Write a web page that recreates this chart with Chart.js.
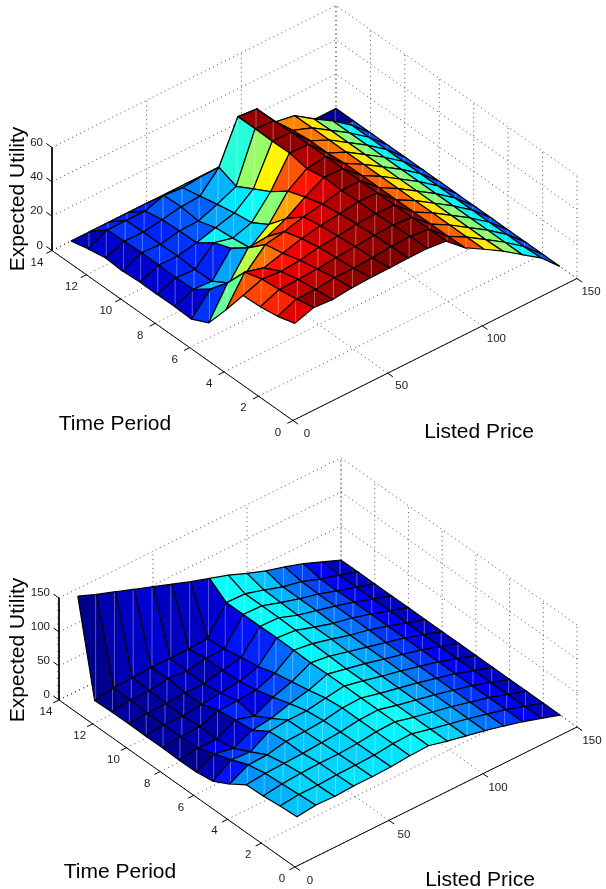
<!DOCTYPE html>
<html>
<head>
<meta charset="utf-8">
<script src="https://cdn.jsdelivr.net/npm/chart.js@4"></script>
<style>
html, body { margin: 0; padding: 0; background: #fff; }
canvas { display: block; }
</style>
</head>
<body>
<canvas id="chart_top" width="606" height="445"></canvas>
<canvas id="chart_bottom" width="606" height="444"></canvas>
<script>
'use strict';
var listedPrices = [10, 20, 30, 40, 50, 60, 70, 80, 90, 100, 110, 120, 130, 140, 150];
var timePeriods = [14, 13, 12, 11, 10, 9, 8, 7, 6, 5, 4, 3, 2, 1];
var priceTicks = [0, 50, 100, 150];
var timeTicks = [0, 2, 4, 6, 8, 10, 12, 14];
var utilityTicksTop = [0, 20, 40, 60];
var utilityTicksBottom = [0, 50, 100, 150];
var utilityMinorBottom = [10, 20, 30, 40, 60, 70, 80, 90, 110, 120, 130, 140];

// one row per time period (14 down to 1), one column per listed price
var utilityTop = [
    [0, 0, 0, 0, 0, 0, 0, 0, 0, 0, 0, 0, 0, 0, 0],
    [2.5, 8, 8, 8, 11.5, 10.5, 11.8, 5, 0, 0, 0, 0, 0, 1, 0],
    [4.4, 8.5, 8.3, 10, 12, 12.7, 24, 48, 47, 34, 32, 24.7, 18, 10, 0],
    [3.7, 8.9, 8.2, 10.5, 10.8, 15, 20, 48, 47, 36, 32, 25, 18, 10, 0],
    [4.4, 8.7, 8.5, 10.7, 14, 17, 25.6, 47.8, 47.5, 37, 32, 25, 18, 10, 0],
    [4.3, 8.4, 7.8, 17.8, 15, 18.5, 31, 48, 47.5, 37, 32, 25, 18, 10, 0],
    [4.4, 8.7, 8, 21.6, 16.4, 24.5, 38.4, 46, 47.5, 38, 32, 25, 18, 10, 0],
    [4, 16, 14, 29, 30, 35, 42, 48, 47.5, 38, 32, 25, 18, 10, 0],
    [8.9, 26.7, 27.4, 38, 40, 43, 45, 47.5, 47.5, 38, 32, 25, 18, 10, 0],
    [23.5, 40, 37, 40, 43, 45, 46.5, 48, 47.5, 38, 32, 25, 18, 10, 0],
    [39, 43, 42, 43, 45, 46, 47.5, 48, 47.5, 38, 32, 25, 18, 10, 0],
    [39.5, 44, 44.4, 45, 46, 47, 48, 48.5, 47.5, 38, 32, 25, 18, 10, 0],
    [41, 45.6, 45.6, 47, 47, 47.5, 48.6, 49, 47.6, 38, 32, 25, 18, 10, 0],
    [44, 47.6, 46.8, 48, 48.5, 48.7, 49, 49, 47.8, 38.4, 32, 25.4, 17.9, 10.5, 0]
];
var utilityBottom = [
    [139, 128, 118, 108, 98, 88, 78, 69, 60, 49, 39, 31, 22, 11, 0],
    [3, 8, 9, 10.6, 10, 10, 12, 51, 50, 42, 33, 27, 17, 9, 0],
    [3.9, 7.6, 7.4, 12, 9, 14, 14, 51, 50, 41, 33, 26, 17, 9, 0],
    [4.4, 5.4, 6.4, 8.4, 7.4, 14, 19, 51, 50, 40, 33, 26, 18, 9, 0],
    [3.9, 6, 5.4, 8.8, 12, 15, 23, 51.5, 49, 40, 32, 26, 18, 9, 0],
    [4.2, 6.4, 7.4, 17, 18, 20, 31, 51, 47, 40, 32, 26, 18, 9, 0],
    [3.2, 6.7, 6.2, 21, 13, 27, 36, 50, 46, 39, 32, 25, 18, 9, 0],
    [3.6, 16, 10.5, 23.5, 27, 35, 41, 51, 45, 39, 32, 25, 18, 9, 0],
    [7.4, 24.8, 23, 39, 42, 42, 47, 51, 45, 38, 32, 25, 18, 9, 0],
    [20.6, 35, 36, 42, 43, 45, 50, 51, 44, 38, 32, 25, 18, 9, 0],
    [37, 40, 41, 42, 44, 46, 50, 51, 44, 38, 32, 25, 18, 9, 0],
    [38, 42, 44, 45, 45, 46.5, 50, 51, 44, 38, 32, 25, 18, 9, 0],
    [41, 44, 44, 45.5, 46, 47, 50, 51, 44, 38, 32, 25, 18, 9, 0],
    [42.6, 46, 45, 46.5, 46.5, 47.5, 50, 51, 44, 38, 32, 25, 17.6, 8.8, 0]
];

// jet colormap, 64 levels like matlab
function jet(c) {
    c = Math.min(Math.max(c, 0), 1);
    c = Math.min(Math.floor(c * 64), 63) / 63;
    var part = function(v) {
        return Math.round(255 * Math.min(Math.max(1.5 - Math.abs(4 * c - v), 0), 1));
    };
    return 'rgb(' + part(3) + ',' + part(2) + ',' + part(1) + ')';
}

function lineSet(points, color, dash, width) {
    return {
        showLine: true,
        data: points,
        borderColor: color,
        borderWidth: width || 1,
        borderDash: dash || [],
        pointRadius: 0,
        fill: false,
        clip: false
    };
}

// the pale vertical streak the original renderer leaves inside every patch
function streak(points) {
    let xs = points.map(p => p.x);
    let cx = (Math.min.apply(null, xs) + Math.max.apply(null, xs)) / 2;
    let ys = [];
    for (let k = 0; k < points.length - 1; k++) {
        let a = points[k];
        let b = points[k + 1];
        if ((a.x - cx) * (b.x - cx) <= 0 && a.x !== b.x) {
            ys.push(a.y + (cx - a.x) / (b.x - a.x) * (b.y - a.y));
        }
    }
    return [{ x: cx, y: Math.min.apply(null, ys) + 1 }, { x: cx, y: Math.max.apply(null, ys) - 1 }];
}

function surfaceChart(canvasId, cfg) {
    var zTop = cfg.zTicks[cfg.zTicks.length - 1];

    function project(price, time, z) {
        return {
            x: cfg.origin[0] + price / 150 * cfg.priceAxis[0] + time / 14 * cfg.timeAxis[0],
            y: cfg.origin[1] + price / 150 * cfg.priceAxis[1] + time / 14 * cfg.timeAxis[1] - z / zTop * cfg.zLength
        };
    }

    let datasets = [];
    const dotted = 'rgba(0, 0, 0, 0.7)';

    // dotted box: floor and the two back walls
    timeTicks.forEach(t => {
        datasets.push(lineSet([project(0, t, 0), project(150, t, 0), project(150, t, zTop)], dotted, [1, 3.5]));
    });
    priceTicks.forEach(p => {
        datasets.push(lineSet([project(p, 0, 0), project(p, 14, 0), project(p, 14, zTop)], dotted, [1, 3.5]));
    });
    cfg.zTicks.forEach(z => {
        datasets.push(lineSet([project(0, 14, z), project(150, 14, z), project(150, 0, z)], dotted, [1, 3.5]));
    });

    // axis lines and tick marks
    datasets.push(lineSet([project(0, 14, zTop), project(0, 14, 0), project(0, 0, 0), project(150, 0, 0)], '#000'));
    cfg.zTicks.forEach(z => {
        datasets.push(lineSet([project(0, 14, z), project(0, 14.33, z)], '#000'));
    });
    cfg.zMinor.forEach(z => {
        datasets.push(lineSet([project(0, 14, z), project(0, 14.1, z)], '#333'));
    });
    timeTicks.forEach(t => {
        datasets.push(lineSet([project(0, t, 0), project(-3, t, 0)], '#000'));
    });
    priceTicks.forEach(p => {
        datasets.push(lineSet([project(p, 0, 0), project(p, -0.3, 0)], '#000'));
    });

    // patches from back to front, colour taken from the low price, low time corner
    for (let r = 0; r < timePeriods.length - 1; r++) {
        for (let c = listedPrices.length - 2; c >= 0; c--) {
            let corners = [[r, c], [r, c + 1], [r + 1, c + 1], [r + 1, c], [r, c]];
            let pts = corners.map(k =>
                project(listedPrices[k[1]], timePeriods[k[0]], cfg.utility[k[0]][k[1]])
            );
            let quad = lineSet(pts, '#000', [], 1.2);
            quad.fill = 'shape';
            quad.backgroundColor = jet(cfg.utility[r + 1][c] / cfg.colorMax);
            datasets.push(quad);
            datasets.push(lineSet(streak(pts), 'rgba(255, 255, 255, 0.13)'));
        }
    }
    // chart.js paints the first dataset last
    datasets.reverse();

    const axisText = {
        id: 'axisText',
        afterDraw: function(chart) {
            const ctx = chart.ctx;
            const sx = chart.scales.x;
            const sy = chart.scales.y;
            const put = (text, p, dx, dy, align) => {
                ctx.textAlign = align;
                ctx.fillText(text, sx.getPixelForValue(p.x) + dx, sy.getPixelForValue(p.y) + dy);
            };
            ctx.save();
            ctx.fillStyle = '#1a1a1a';
            ctx.textBaseline = 'middle';
            ctx.font = '11.5px "Liberation Sans"';
            timeTicks.forEach(t => put(String(t), project(0, t, 0), cfg.timeLabel[0], cfg.timeLabel[1], 'center'));
            priceTicks.forEach(p => put(String(p), project(p, 0, 0), cfg.priceLabel[0], cfg.priceLabel[1], 'center'));
            cfg.zTicks.forEach(z => put(String(z), project(0, 14, z), -9, -5, 'right'));

            ctx.fillStyle = '#000';
            ctx.font = '21px "Liberation Sans"';
            put('Time Period', { x: cfg.timeTitle[0], y: cfg.timeTitle[1] }, 0, 0, 'center');
            put('Listed Price', { x: cfg.priceTitle[0], y: cfg.priceTitle[1] }, 0, 0, 'center');
            ctx.translate(sx.getPixelForValue(cfg.zTitle[0]), sy.getPixelForValue(cfg.zTitle[1]));
            ctx.rotate(-Math.PI / 2);
            ctx.fillText('Expected Utility', 0, 0);
            ctx.restore();
        }
    };

    return new Chart(document.getElementById(canvasId).getContext('2d'), {
        type: 'scatter',
        data: { datasets: datasets },
        plugins: [axisText],
        options: {
            responsive: false,
            animation: false,
            layout: { padding: 0 },
            plugins: { legend: { display: false }, tooltip: { enabled: false } },
            scales: {
                x: { type: 'linear', display: false, min: 0, max: 606 },
                y: { type: 'linear', display: false, reverse: true, min: cfg.top, max: cfg.bottom }
            }
        }
    });
}

surfaceChart('chart_top', {
    utility: utilityTop,
    zTicks: utilityTicksTop,
    zMinor: [],
    colorMax: 49,
    top: 0,
    bottom: 445,
    origin: [293, 420.5],
    priceAxis: [284, -142],
    timeAxis: [-241, -170],
    zLength: 103,
    timeLabel: [-15, 12],
    priceLabel: [14, 13],
    timeTitle: [115, 424],
    priceTitle: [479, 432],
    zTitle: [18, 199]
});

surfaceChart('chart_bottom', {
    utility: utilityBottom,
    zTicks: utilityTicksBottom,
    zMinor: utilityMinorBottom,
    colorMax: 134,
    top: 445,
    bottom: 889,
    origin: [295, 867],
    priceAxis: [282, -140],
    timeAxis: [-236, -167],
    zLength: 102,
    timeLabel: [-13, 12],
    priceLabel: [15, 14],
    timeTitle: [120, 872],
    priceTitle: [480, 880],
    zTitle: [18, 650]
});
</script>
</body>
</html>
